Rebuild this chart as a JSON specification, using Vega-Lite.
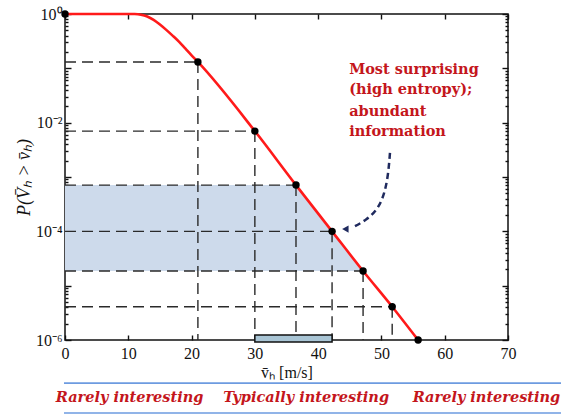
{
  "$schema": "https://vega.github.io/schema/vega-lite/v6.json",
  "autosize": {"type": "none"},
  "width": 443,
  "height": 326,
  "padding": {"left": 65, "top": 14, "right": 53, "bottom": 76},
  "background": "white",
  "config": {
    "view": {"stroke": "#111", "strokeWidth": 1.5},
    "axis": {"zindex": 1, "domain": false, "tickColor": "#111", "tickWidth": 1.4, "labelColor": "#111", "labelFont": "Liberation Serif", "labelFontSize": 16, "titleFont": "Liberation Serif", "titleFontSize": 16, "titleFontWeight": "normal", "titleColor": "#111", "grid": false, "labelOverlap": false, "labelBound": false, "labelFlush": false}
  },
  "datasets": {
    "shade": [
      {"x": 0, "y": 0.00071, "y2": 0.0000186},
      {"x": 36.5, "y": 0.00071, "y2": 0.0000186},
      {"x": 42.2, "y": 0.0001, "y2": 0.0000186},
      {"x": 47.1, "y": 0.0000186, "y2": 0.0000186}
    ],
    "guides": [
      {"x": 0, "x2": 21, "y": 0.131, "y2": 0.131},
      {"x": 21, "x2": 21, "y": 0.131, "y2": 0.000001},
      {"x": 0, "x2": 30, "y": 0.007, "y2": 0.007},
      {"x": 30, "x2": 30, "y": 0.007, "y2": 0.000001},
      {"x": 0, "x2": 36.5, "y": 0.00071, "y2": 0.00071},
      {"x": 36.5, "x2": 36.5, "y": 0.00071, "y2": 0.000001},
      {"x": 0, "x2": 42.2, "y": 0.0001, "y2": 0.0001},
      {"x": 42.2, "x2": 42.2, "y": 0.0001, "y2": 0.000001},
      {"x": 0, "x2": 47.1, "y": 0.0000186, "y2": 0.0000186},
      {"x": 47.1, "x2": 47.1, "y": 0.0000186, "y2": 0.000001},
      {"x": 0, "x2": 51.7, "y": 0.0000041, "y2": 0.0000041},
      {"x": 51.7, "x2": 51.7, "y": 0.0000041, "y2": 0.000001}
    ],
    "box": [{"x": 30, "x2": 42.2, "y": 0.00000124, "y2": 0.00000092}],
    "curve": [
      {"x": 0, "y": 1}, {"x": 5, "y": 1}, {"x": 10, "y": 1}, {"x": 11, "y": 0.997},
      {"x": 12, "y": 0.972}, {"x": 13, "y": 0.9}, {"x": 14, "y": 0.78}, {"x": 15, "y": 0.64},
      {"x": 16, "y": 0.51}, {"x": 17, "y": 0.4}, {"x": 18, "y": 0.31}, {"x": 19, "y": 0.232},
      {"x": 20, "y": 0.173}, {"x": 21, "y": 0.131}, {"x": 30, "y": 0.007}, {"x": 36.5, "y": 0.00071},
      {"x": 42.2, "y": 0.0001}, {"x": 47.1, "y": 0.0000186}, {"x": 51.7, "y": 0.0000041}, {"x": 55.8, "y": 0.000001}
    ],
    "pts": [
      {"x": 0, "y": 1}, {"x": 21, "y": 0.131}, {"x": 30, "y": 0.007}, {"x": 36.5, "y": 0.00071},
      {"x": 42.2, "y": 0.0001}, {"x": 47.1, "y": 0.0000186}, {"x": 51.7, "y": 0.0000041}, {"x": 55.8, "y": 0.000001}
    ],
    "arrow": [
      {"i": 1, "x": 51.35, "y": 0.00277},
      {"i": 2, "x": 51.1, "y": 0.0012},
      {"i": 3, "x": 50.6, "y": 0.00055},
      {"i": 4, "x": 49.6, "y": 0.00027},
      {"i": 5, "x": 47.7, "y": 0.000162},
      {"i": 6, "x": 45.3, "y": 0.000116}
    ],
    "head": [{"x": 44.3, "y": 0.00011}],
    "note": [
      {"x": 44.9, "y": 0.093, "t": "Most surprising"},
      {"x": 44.9, "y": 0.0399, "t": "(high entropy);"},
      {"x": 44.9, "y": 0.0157, "t": "abundant"},
      {"x": 44.9, "y": 0.00673, "t": "information"}
    ],
    "bands": [
      {"x": 10.2, "y": 0.0000000855, "t": "Rarely interesting"},
      {"x": 38.1, "y": 0.0000000855, "t": "Typically interesting"},
      {"x": 66.6, "y": 0.0000000855, "t": "Rarely interesting"}
    ],
    "blue": [
      {"x": -0.16, "x2": 78.4, "y": 0.000000161},
      {"x": -0.16, "x2": 78.4, "y": 0.0000000453}
    ]
  },
  "resolve": {"axis": {"x": "independent", "y": "independent"}},
  "layer": [
    {
      "data": {"name": "shade"},
      "mark": {"type": "area", "color": "#cddaeb", "opacity": 1},
      "encoding": {
        "x": {"field": "x", "type": "quantitative", "scale": {"domain": [0, 70], "nice": false}, "axis": null},
        "y": {"field": "y", "type": "quantitative", "scale": {"type": "log", "domain": [0.000001, 1], "nice": false}, "axis": null},
        "y2": {"field": "y2"}
      }
    },
    {
      "data": {"name": "guides"},
      "mark": {"type": "rule", "color": "#2a2a2a", "strokeWidth": 1.4, "strokeDash": [11, 6]},
      "encoding": {
        "x": {"field": "x", "type": "quantitative", "scale": {"domain": [0, 70], "nice": false}, "axis": null},
        "x2": {"field": "x2"},
        "y": {"field": "y", "type": "quantitative", "scale": {"type": "log", "domain": [0.000001, 1], "nice": false}, "axis": null},
        "y2": {"field": "y2"}
      }
    },
    {
      "data": {"name": "box"},
      "mark": {"type": "rect", "fill": "#a9c5d5", "stroke": "#111", "strokeWidth": 1.5, "clip": false},
      "encoding": {
        "x": {"field": "x", "type": "quantitative", "scale": {"domain": [0, 70], "nice": false}, "axis": null},
        "x2": {"field": "x2"},
        "y": {"field": "y", "type": "quantitative", "scale": {"type": "log", "domain": [0.000001, 1], "nice": false}, "axis": null},
        "y2": {"field": "y2"}
      }
    },
    {
      "data": {"name": "curve"},
      "mark": {"type": "line", "color": "#ff1a1a", "strokeWidth": 2.6, "interpolate": "monotone"},
      "encoding": {
        "x": {"field": "x", "type": "quantitative", "scale": {"domain": [0, 70], "nice": false},
          "axis": {"orient": "bottom", "values": [0, 10, 20, 30, 40, 50, 60, 70], "tickSize": -5, "labelPadding": 10, "title": "v̄ₕ [m/s]", "titlePadding": 3}},
        "y": {"field": "y", "type": "quantitative", "scale": {"type": "log", "domain": [0.000001, 1], "nice": false},
          "axis": {"orient": "left",
            "values": [0.000001, 0.000002, 0.000003, 0.000004, 0.000005, 0.000006, 0.000007, 0.000008, 0.000009, 0.00001, 0.00002, 0.00003, 0.00004, 0.00005, 0.00006, 0.00007, 0.00008, 0.00009, 0.0001, 0.0002, 0.0003, 0.0004, 0.0005, 0.0006, 0.0007, 0.0008, 0.0009, 0.001, 0.002, 0.003, 0.004, 0.005, 0.006, 0.007, 0.008, 0.009, 0.01, 0.02, 0.03, 0.04, 0.05, 0.06, 0.07, 0.08, 0.09, 0.1, 0.2, 0.3, 0.4, 0.5, 0.6, 0.7, 0.8, 0.9, 1],
            "labelExpr": "datum.value == 1 ? '10⁰' : datum.value == 0.01 ? '10⁻²' : datum.value == 0.0001 ? '10⁻⁴' : datum.value == 0.000001 ? '10⁻⁶' : ''",
            "tickSize": {"condition": {"test": "datum.value == 1 || datum.value == 0.1 || datum.value == 0.01 || datum.value == 0.001 || datum.value == 0.0001 || datum.value == 0.00001 || datum.value == 0.000001", "value": -6}, "value": -3},
            "labelPadding": 9,
            "title": "P(V̄ₕ > v̄ₕ)", "titleFontStyle": "italic", "titleFontSize": 18, "titlePadding": 2}}
      }
    },
    {
      "data": {"name": "pts"},
      "mark": {"type": "point", "filled": true, "color": "#000", "size": 55, "opacity": 1, "clip": false},
      "encoding": {
        "x": {"field": "x", "type": "quantitative", "scale": {"domain": [0, 70], "nice": false},
          "axis": {"orient": "top", "values": [0, 10, 20, 30, 40, 50, 60, 70], "tickSize": -5, "labels": false, "title": null}},
        "y": {"field": "y", "type": "quantitative", "scale": {"type": "log", "domain": [0.000001, 1], "nice": false},
          "axis": {"orient": "right", "labels": false, "title": null,
            "values": [0.000001, 0.000002, 0.000003, 0.000004, 0.000005, 0.000006, 0.000007, 0.000008, 0.000009, 0.00001, 0.00002, 0.00003, 0.00004, 0.00005, 0.00006, 0.00007, 0.00008, 0.00009, 0.0001, 0.0002, 0.0003, 0.0004, 0.0005, 0.0006, 0.0007, 0.0008, 0.0009, 0.001, 0.002, 0.003, 0.004, 0.005, 0.006, 0.007, 0.008, 0.009, 0.01, 0.02, 0.03, 0.04, 0.05, 0.06, 0.07, 0.08, 0.09, 0.1, 0.2, 0.3, 0.4, 0.5, 0.6, 0.7, 0.8, 0.9, 1],
            "tickSize": {"condition": {"test": "datum.value == 1 || datum.value == 0.1 || datum.value == 0.01 || datum.value == 0.001 || datum.value == 0.0001 || datum.value == 0.00001 || datum.value == 0.000001", "value": -6}, "value": -3}}}
      }
    },
    {
      "data": {"name": "arrow"},
      "mark": {"type": "line", "color": "#1f2a5e", "strokeWidth": 2.5, "strokeDash": [6, 4], "interpolate": "basis"},
      "encoding": {
        "x": {"field": "x", "type": "quantitative", "scale": {"domain": [0, 70], "nice": false}, "axis": null},
        "y": {"field": "y", "type": "quantitative", "scale": {"type": "log", "domain": [0.000001, 1], "nice": false}, "axis": null},
        "order": {"field": "i", "type": "quantitative"}
      }
    },
    {
      "data": {"name": "head"},
      "mark": {"type": "point", "shape": "triangle-left", "filled": true, "color": "#1f2a5e", "size": 55, "opacity": 1},
      "encoding": {
        "x": {"field": "x", "type": "quantitative", "scale": {"domain": [0, 70], "nice": false}, "axis": null},
        "y": {"field": "y", "type": "quantitative", "scale": {"type": "log", "domain": [0.000001, 1], "nice": false}, "axis": null}
      }
    },
    {
      "data": {"name": "note"},
      "mark": {"type": "text", "align": "left", "baseline": "middle", "font": "DejaVu Serif", "fontWeight": "bold", "fontSize": 14.5, "color": "#c4161c"},
      "encoding": {
        "x": {"field": "x", "type": "quantitative", "scale": {"domain": [0, 70], "nice": false}, "axis": null},
        "y": {"field": "y", "type": "quantitative", "scale": {"type": "log", "domain": [0.000001, 1], "nice": false}, "axis": null},
        "text": {"field": "t"}
      }
    },
    {
      "data": {"name": "blue"},
      "mark": {"type": "rule", "color": "#6d9be0", "strokeWidth": 1.6, "clip": false},
      "encoding": {
        "x": {"field": "x", "type": "quantitative", "scale": {"domain": [0, 70], "nice": false}, "axis": null},
        "x2": {"field": "x2"},
        "y": {"field": "y", "type": "quantitative", "scale": {"type": "log", "domain": [0.000001, 1], "nice": false}, "axis": null}
      }
    },
    {
      "data": {"name": "bands"},
      "mark": {"type": "text", "align": "center", "baseline": "middle", "font": "DejaVu Serif", "fontWeight": "bold", "fontStyle": "italic", "fontSize": 14.5, "color": "#c4161c", "clip": false},
      "encoding": {
        "x": {"field": "x", "type": "quantitative", "scale": {"domain": [0, 70], "nice": false}, "axis": null},
        "y": {"field": "y", "type": "quantitative", "scale": {"type": "log", "domain": [0.000001, 1], "nice": false}, "axis": null},
        "text": {"field": "t"}
      }
    }
  ]
}
